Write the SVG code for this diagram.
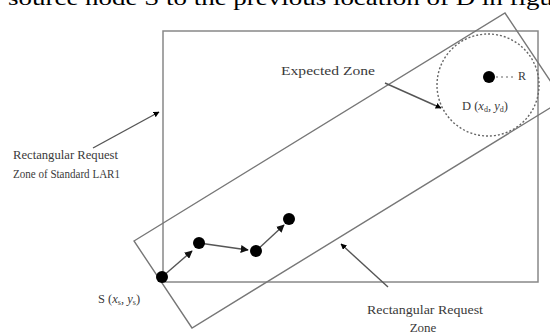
<svg xmlns="http://www.w3.org/2000/svg" width="550" height="335" viewBox="0 0 550 335">
<style>
.lbl{font-family:"Liberation Serif","Times New Roman",serif;fill:#3a3a3a}
.zone{fill:none;stroke:#888;stroke-width:1.5}
.conn{stroke:#555;stroke-width:1.4;fill:none}
.node{fill:#000}
</style>
<defs>
<marker id="ah" viewBox="0 0 10 10" refX="9" refY="5" markerWidth="6" markerHeight="6" orient="auto" markerUnits="userSpaceOnUse">
<path d="M0,0 L10,5 L0,10 z" fill="#000"/>
</marker>
<marker id="ahs" viewBox="0 0 10 10" refX="9" refY="5" markerWidth="8" markerHeight="8" orient="auto" markerUnits="userSpaceOnUse">
<path d="M0,0 L10,5 L0,10 z" fill="#111"/>
</marker>
</defs>
<rect width="550" height="335" fill="#fff"/>
<text x="8" y="5" font-family="Liberation Serif, Times New Roman, serif" font-size="22" fill="#000" textLength="545" lengthAdjust="spacingAndGlyphs">source node S to the previous location of D in figu</text>

<g id="standard-zone"><rect class="zone" x="163" y="31" width="375" height="251"/></g>
<g id="request-zone"><polygon class="zone" points="134,241 505,13 563,100 192,328" style="stroke:#777;stroke-width:1.4"/></g>
<g id="expected-zone"><circle cx="488" cy="85" r="51" fill="none" stroke="#666" stroke-width="1.4" stroke-dasharray="2,2"/></g>

<g id="connectors">
<line class="conn" x1="93" y1="148" x2="159" y2="112" marker-end="url(#ah)"/>
<line class="conn" x1="385" y1="83" x2="441" y2="108" marker-end="url(#ah)"/>
<line class="conn" x1="388" y1="287" x2="341" y2="244" marker-end="url(#ah)"/>
<line class="conn" x1="162" y1="277" x2="192" y2="251" marker-end="url(#ahs)"/>
<line class="conn" x1="199" y1="243" x2="248" y2="250" marker-end="url(#ahs)"/>
<line class="conn" x1="256" y1="251" x2="284" y2="225" marker-end="url(#ahs)"/>
<line x1="496" y1="77" x2="516" y2="77" stroke="#666" stroke-width="1.2" stroke-dasharray="2,3"/>
</g>

<g id="S"><circle class="node" cx="162" cy="277" r="6"/>
<text class="lbl" x="98" y="303" font-size="12.5">S (<tspan font-style="italic">x</tspan><tspan font-size="8" dy="2">s</tspan><tspan dy="-2">, </tspan><tspan font-style="italic">y</tspan><tspan font-size="8" dy="2">s</tspan><tspan dy="-2">)</tspan></text></g>
<g id="n2"><circle class="node" cx="199" cy="243" r="6"/></g>
<g id="n3"><circle class="node" cx="256" cy="251" r="6"/></g>
<g id="n4"><circle class="node" cx="289" cy="219" r="6"/></g>
<g id="D"><circle class="node" cx="489" cy="77" r="6"/>
<text class="lbl" x="518" y="80" font-size="12">R</text>
<text class="lbl" x="462" y="110" font-size="12.5">D (<tspan font-style="italic">x</tspan><tspan font-size="8" dy="2">d</tspan><tspan dy="-2">, </tspan><tspan font-style="italic">y</tspan><tspan font-size="8" dy="2">d</tspan><tspan dy="-2">)</tspan></text></g>

<g id="label-expected"><text class="lbl" x="281" y="75" font-size="13.5" textLength="94" lengthAdjust="spacingAndGlyphs">Expected Zone</text></g>
<g id="label-standard">
<text class="lbl" x="13" y="159" font-size="11.5" textLength="105" lengthAdjust="spacingAndGlyphs">Rectangular Request</text>
<text class="lbl" x="13" y="178" font-size="11.5" textLength="107" lengthAdjust="spacingAndGlyphs">Zone of Standard LAR1</text>
</g>
<g id="label-request">
<text class="lbl" x="367" y="314" font-size="13" textLength="116" lengthAdjust="spacingAndGlyphs">Rectangular Request</text>
<text class="lbl" x="423" y="332" font-size="13" text-anchor="middle">Zone</text>
</g>
</svg>
